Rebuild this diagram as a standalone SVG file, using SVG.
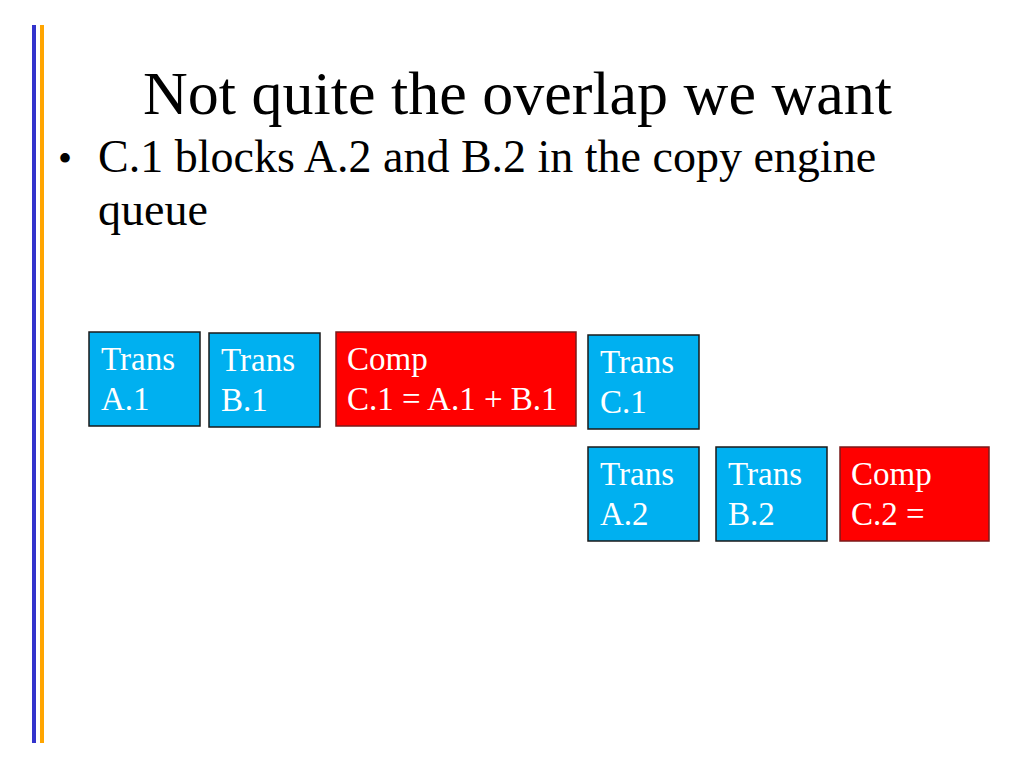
<svg xmlns="http://www.w3.org/2000/svg" width="1024" height="768" viewBox="0 0 1024 768">
<style>
text{font-family:"Liberation Serif","Times New Roman",serif}
.t{fill:#00b0f0;stroke:#1a1a1a;stroke-width:1.5}
.c{fill:#ff0000;stroke:#7a1a1a;stroke-width:1.5}
.l{fill:#fff;font-size:33px}
</style>
<rect width="1024" height="768" fill="#fff"/>
<rect x="32" y="25" width="4" height="718" fill="#3333cc"/>
<rect x="40" y="25" width="4" height="718" fill="#ffa500"/>
<text x="143" y="114" font-size="62">Not quite the overlap we want</text>
<text x="58" y="172" font-size="40">•</text>
<text x="98" y="172" font-size="46">C.1 blocks A.2 and B.2 in the copy engine</text>
<text x="98" y="225" font-size="46">queue</text>
<g id="a1"><rect class="t" x="89" y="332" width="111" height="94"/><text class="l" x="101" y="370">Trans</text><text class="l" x="101" y="410">A.1</text></g>
<g id="b1"><rect class="t" x="209" y="333" width="111" height="94"/><text class="l" x="221" y="371">Trans</text><text class="l" x="221" y="411">B.1</text></g>
<g id="c1"><rect class="c" x="336" y="332" width="240" height="94"/><text class="l" x="347" y="370">Comp</text><text class="l" x="347" y="410">C.1 = A.1 + B.1</text></g>
<g id="tc1"><rect class="t" x="588" y="335" width="111" height="94"/><text class="l" x="600" y="373">Trans</text><text class="l" x="600" y="413">C.1</text></g>
<g id="a2"><rect class="t" x="588" y="447" width="111" height="94"/><text class="l" x="600" y="485">Trans</text><text class="l" x="600" y="525">A.2</text></g>
<g id="b2"><rect class="t" x="716" y="447" width="111" height="94"/><text class="l" x="728" y="485">Trans</text><text class="l" x="728" y="525">B.2</text></g>
<g id="c2"><rect class="c" x="840" y="447" width="149" height="94"/><text class="l" x="851" y="485">Comp</text><text class="l" x="851" y="525">C.2 =</text></g>
<g id="connectors"/>
</svg>
